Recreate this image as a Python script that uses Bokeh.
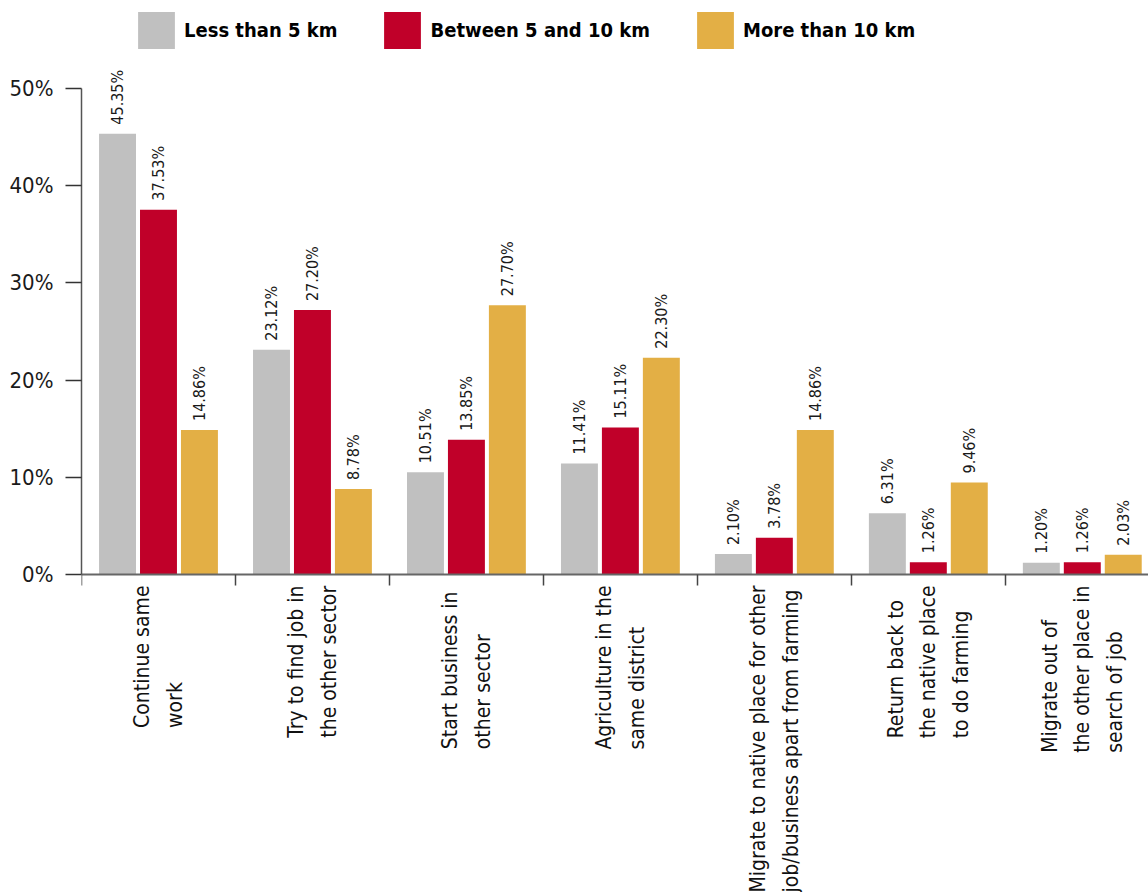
import math
from bokeh.plotting import figure
from bokeh.models import ColumnDataSource, LabelSet, FixedTicker, Legend, LegendItem, Range1d
from bokeh.core.properties import value
from bokeh.embed import file_html
from bokeh.resources import INLINE

# ---- data ----
categories = [
    "Continue same\nwork",
    "Try to find job in\nthe other sector",
    "Start  business in\nother sector",
    "Agriculture in the\nsame district",
    "Migrate to native place for other\njob/business apart from farming",
    "Return back to\nthe native place\nto do farming",
    "Migrate out of\nthe other place in\nsearch of job",
]
series_names = ["Less than 5 km", "Between 5 and 10 km", "More than 10 km"]
less_than_5 = [45.35, 23.12, 10.51, 11.41, 2.10, 6.31, 1.20]
between_5_10 = [37.53, 27.20, 13.85, 15.11, 3.78, 1.26, 1.26]
more_than_10 = [14.86, 8.78, 27.70, 22.30, 14.86, 9.46, 2.03]
y_ticks = [0, 10, 20, 30, 40, 50]

colors = ["#C0C0C0", "#C00029", "#E3AF45"]
FONT = "'DejaVu Sans Condensed', 'Liberation Sans Narrow', Roboto, sans-serif"

p = figure(width=1148, height=892, output_backend="svg", toolbar_location=None,
           x_range=Range1d(0, 6.93), y_range=Range1d(-32.72, 59.05),
           min_border_left=81, min_border_right=0, min_border_top=0, min_border_bottom=0)
p.outline_line_color = None
p.xgrid.visible = False
p.ygrid.visible = False
p.background_fill_color = "white"
p.border_fill_color = "white"

offsets = [-0.266, 0.0, 0.266]
series = [less_than_5, between_5_10, more_than_10]
renderers = []
for vals, off, col in zip(series, offsets, colors):
    src = ColumnDataSource(dict(
        x=[i + 0.5 + off for i in range(len(categories))],
        top=vals,
        lbl=[f"{v:.2f}%" for v in vals],
    ))
    r = p.vbar(x="x", top="top", width=0.24, bottom=0, source=src,
               fill_color=col, line_color=None)
    renderers.append(r)
    p.add_layout(LabelSet(x="x", y="top", text="lbl", source=src, angle=math.pi / 2,
                          text_align="left", text_baseline="middle", y_offset=9,
                          text_font=value(FONT), text_font_size=value("16px"),
                          text_color="#1a1a1a"))

# category labels
cat_src = ColumnDataSource(dict(x=[i + 0.5 for i in range(len(categories))],
                                y=[0] * len(categories), t=categories))
p.add_layout(LabelSet(x="x", y="y", text="t", source=cat_src, angle=math.pi / 2,
                      text_align="right", text_baseline="middle", y_offset=-11,
                      text_font=value(FONT), text_font_size=value("21px"),
                      text_color="#111111", text_line_height=1.35))

# y axis
p.yaxis.ticker = FixedTicker(ticks=y_ticks)
p.yaxis.major_label_overrides = {t: f"{t}%" for t in y_ticks}
p.yaxis.bounds = (0, 50)
p.yaxis.major_tick_out = 16
p.yaxis.major_tick_in = 0
p.yaxis.minor_tick_out = 0
p.yaxis.minor_tick_in = 0
p.yaxis.major_label_standoff = 12
p.yaxis.major_label_text_font = FONT
p.yaxis.major_label_text_font_size = "22px"
p.yaxis.major_label_text_color = "#1a1a1a"
p.yaxis.axis_line_color = "#555555"
p.yaxis.axis_line_width = 1.5
p.yaxis.major_tick_line_color = "#333333"
p.yaxis.major_tick_line_width = 1.5

# x axis: drawn at 0, ticks at category boundaries
p.xaxis.fixed_location = 0
p.xaxis.ticker = FixedTicker(ticks=list(range(len(categories))))
p.xaxis.major_label_overrides = {i: "" for i in range(len(categories))}
p.xaxis.major_label_text_font_size = "1px"
p.xaxis.major_tick_out = 11
p.xaxis.major_tick_in = 0
p.xaxis.minor_tick_out = 0
p.xaxis.minor_tick_in = 0
p.xaxis.axis_line_color = "#666666"
p.xaxis.axis_line_width = 2
p.xaxis.major_tick_line_color = "#444444"
p.xaxis.major_tick_line_width = 1.5

legend = Legend(items=[LegendItem(label=n, renderers=[r]) for n, r in zip(series_names, renderers)],
                orientation="horizontal", location=(52, 839),
                glyph_width=46, glyph_height=46, label_standoff=5, spacing=42,
                padding=0, margin=0, border_line_color=None, background_fill_alpha=0,
                label_text_font=FONT, label_text_font_size="20px", label_text_font_style="bold",
                label_text_color="#000000", label_height=46)
p.add_layout(legend)

open("out.html", "w").write(file_html(p, INLINE))
